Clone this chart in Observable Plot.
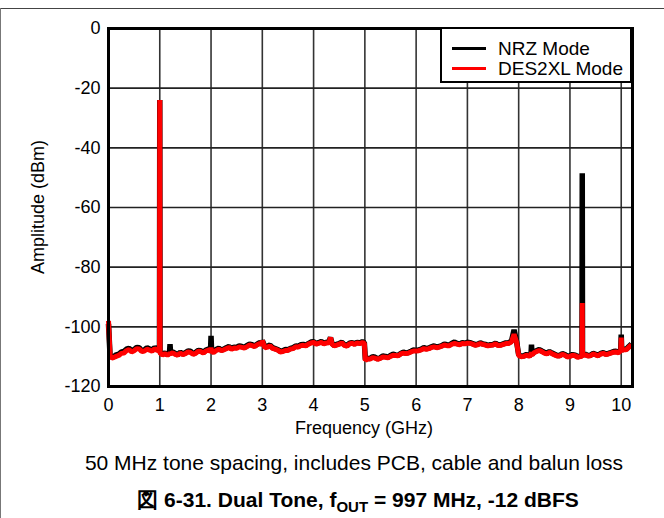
<!DOCTYPE html>
<html>
<head>
<meta charset="utf-8">
<script src="https://cdn.jsdelivr.net/npm/d3@7"></script>
<script src="https://cdn.jsdelivr.net/npm/@observablehq/plot@0.6"></script>
<style>
  html, body { margin: 0; padding: 0; background: #fff; }
  body { font-family: "Liberation Sans", Arial, sans-serif; color: #000; }
  #wrap { position: relative; width: 664px; height: 518px; overflow: hidden; }
  #topline { position: absolute; left: 0; top: 8px; width: 664px; height: 1px; background: #444; }
  #leftline { position: absolute; left: 0; top: 8px; width: 1px; height: 510px; background: #777; }
  #chart { position: absolute; left: 0; top: 0; }
  .t { position: absolute; white-space: nowrap; font-size: 18px; }
  #ylab { left: 38px; top: 207px; transform: translate(-50%, -50%) rotate(-90deg); }
  #xlab { left: 364px; top: 428px; transform: translate(-50%, -50%); }
  #cap { left: 354px; top: 463px; transform: translate(-50%, -50%); font-size: 21px; }
  #title { left: 358px; top: 500px; transform: translate(-50%, -50%); font-weight: bold; font-size: 21px; }
  #title sub { font-size: 15px; vertical-align: -5px; line-height: 0; }
  #legend { position: absolute; left: 440px; top: 27px; width: 192px; height: 56px; box-sizing: border-box;
            border: 2px solid #000; background: #fff; }
  .lg { position: absolute; left: 10px; width: 34px; height: 3px; }
  .lt { position: absolute; left: 56px; font-size: 19px; line-height: 19px; }
</style>
</head>
<body>
<div id="wrap">
  <div id="topline"></div>
  <div id="leftline"></div>
  <div id="chart"></div>
  <div id="legend">
    <div class="lg" style="top:18px;background:#000"></div>
    <div class="lt" style="top:10px">NRZ Mode</div>
    <div class="lg" style="top:38px;background:#f00"></div>
    <div class="lt" style="top:30px">DES2XL Mode</div>
  </div>
  <div class="t" id="ylab">Amplitude (dBm)</div>
  <div class="t" id="xlab">Frequency (GHz)</div>
  <div class="t" id="cap">50 MHz tone spacing, includes PCB, cable and balun loss</div>
  <div class="t" id="title">図 6-31. Dual Tone, f<sub>OUT</sub> = 997 MHz, -12 dBFS</div>
</div>
<script>
const freqGHz = [
  0.00, 0.03, 0.06, 0.1, 0.15, 0.2, 0.25, 0.3, 0.35, 0.4, 0.45, 0.5, 0.55, 0.6, 0.65, 0.7, 0.75, 0.8, 0.85, 0.9, 0.95, 0.995, 1.0, 1.005,
  1.05, 1.1, 1.15, 1.19, 1.2, 1.21, 1.25, 1.3, 1.35, 1.4, 1.45, 1.5, 1.55, 1.6, 1.65, 1.7, 1.75, 1.8, 1.85, 1.9, 1.95, 1.99, 2.0, 2.01,
  2.05, 2.1, 2.15, 2.2, 2.25, 2.3, 2.35, 2.4, 2.45, 2.5, 2.55, 2.6, 2.65, 2.7, 2.75, 2.8, 2.85, 2.9, 2.95, 2.99, 3.0,
  3.05, 3.1, 3.15, 3.2, 3.25, 3.3, 3.35, 3.4, 3.45, 3.5, 3.55, 3.6, 3.65, 3.7, 3.75, 3.8, 3.85, 3.9, 3.95, 4.0,
  4.05, 4.1, 4.15, 4.2, 4.25, 4.3, 4.33, 4.36, 4.4, 4.45, 4.5, 4.55, 4.6, 4.65, 4.7, 4.75, 4.8, 4.85, 4.9, 4.95, 4.99,
  5.01, 5.05, 5.1, 5.15, 5.2, 5.25, 5.3, 5.35, 5.4, 5.45, 5.5, 5.55, 5.6, 5.65, 5.7, 5.75, 5.8, 5.85, 5.9, 5.95, 6.0,
  6.05, 6.1, 6.15, 6.2, 6.25, 6.3, 6.35, 6.4, 6.45, 6.5, 6.55, 6.6, 6.65, 6.7, 6.75, 6.8, 6.85, 6.9, 6.95, 7.0,
  7.05, 7.1, 7.15, 7.2, 7.25, 7.3, 7.35, 7.4, 7.45, 7.5, 7.55, 7.6, 7.65, 7.7, 7.75, 7.8, 7.86, 7.91, 7.96, 8.0,
  8.05, 8.1, 8.15, 8.2, 8.24, 8.25, 8.26, 8.3, 8.35, 8.4, 8.45, 8.5, 8.55, 8.6, 8.65, 8.7, 8.75, 8.8, 8.85, 8.9, 8.95, 9.0,
  9.05, 9.1, 9.15, 9.2, 9.235, 9.24, 9.245, 9.3, 9.35, 9.4, 9.45, 9.5, 9.55, 9.6, 9.65, 9.7, 9.75, 9.8, 9.85, 9.9, 9.95, 9.99, 10.0,
  10.01, 10.05, 10.1, 10.15, 10.2
];
const nrzDbm = [
  -99, -109.5, -110.2, -110.0, -109.4, -109.2, -108.4, -108.3, -107.5, -107.2, -108.0, -107.6, -106.9, -107.0, -108.0, -107.8, -107.0, -107.4, -107.9, -106.9, -107.6, -107.5, -24, -108.5,
  -109.2, -108.8, -109.3, -108.6, -105.8, -108.6, -108.4, -108.9, -109.4, -108.5, -109.1, -108.7, -108.1, -108.2, -109.0, -108.6, -107.9, -108.0, -108.6, -107.8, -107.5, -108.0, -103.0, -108.0,
  -108.4, -107.6, -107.2, -107.8, -107.5, -107.0, -106.6, -107.3, -106.8, -106.9, -106.4, -106.6, -106.9, -106.3, -105.8, -106.0, -106.4, -105.8, -105.3, -105.6, -104.6,
  -106.8, -106.5, -106.1, -107.0, -107.3, -107.6, -108.2, -108.0, -107.6, -107.7, -107.2, -107.0, -106.4, -106.6, -106.0, -105.9, -106.2, -105.6, -105.1, -105.0,
  -105.6, -105.3, -104.9, -105.5, -105.2, -105.0, -103.6, -105.6, -106.2, -105.9, -105.6, -105.2, -106.0, -106.3, -105.5, -105.3, -105.7, -105.2, -105.4, -105.0, -105.3,
  -111.0, -110.5, -110.6, -110.0, -110.2, -110.7, -110.4, -109.8, -109.9, -110.2, -109.6, -109.2, -109.4, -109.5, -108.9, -108.5, -108.8, -108.6, -108.2, -107.8, -107.9,
  -107.8, -107.5, -107.0, -107.3, -107.1, -106.7, -106.4, -106.8, -106.6, -106.3, -105.8, -106.0, -106.1, -105.5, -105.1, -105.6, -105.8, -105.3, -105.5, -105.2,
  -105.3, -105.6, -106.0, -105.8, -105.4, -105.7, -105.9, -106.2, -106.0, -105.9, -105.5, -106.1, -106.0, -105.7, -105.4, -105.4, -104.8, -101.0, -105.0, -109.4,
  -109.8, -109.7, -109.3, -109.6, -109.4, -106.0, -109.2, -108.5, -108.0, -107.6, -108.1, -108.5, -108.9, -108.3, -108.8, -109.2, -109.6, -109.6, -109.0, -109.3, -109.9, -109.7,
  -109.3, -109.5, -110.0, -109.8, -109.6, -48.5, -109.4, -109.2, -109.6, -109.5, -108.9, -109.2, -109.5, -108.9, -108.7, -109.1, -108.9, -108.6, -108.3, -108.2, -108.5, -107.8, -102.6,
  -107.8, -107.4, -107.5, -106.6, -105.8
];
const des2xlDbm = [
  -98, -109.5, -110.5, -110.3, -109.9, -109.6, -108.9, -108.8, -108.0, -107.6, -108.4, -108.0, -107.3, -107.4, -108.3, -108.1, -107.5, -107.8, -108.2, -107.3, -107.9, -107.8, -24, -108.7,
  -109.4, -109.0, -109.5, -109.0, -108.8, -109.0, -108.7, -109.2, -109.5, -108.8, -109.3, -109.0, -108.4, -108.6, -109.2, -108.9, -108.2, -108.3, -108.8, -108.1, -107.8, -108.2, -107.0, -108.2,
  -108.6, -107.9, -107.5, -108.0, -107.7, -107.3, -106.9, -107.5, -107.1, -107.2, -106.7, -106.9, -107.1, -106.7, -106.1, -106.3, -106.6, -106.0, -105.6, -105.9, -104.6,
  -107.0, -106.8, -106.4, -107.2, -107.5, -107.8, -108.4, -108.3, -107.9, -107.9, -107.4, -107.3, -106.7, -106.8, -106.3, -106.2, -106.4, -105.8, -105.4, -105.2,
  -105.8, -105.5, -105.2, -105.7, -105.4, -105.3, -103.6, -105.8, -106.4, -106.1, -105.8, -105.4, -106.2, -106.5, -105.7, -105.5, -105.9, -105.4, -105.6, -105.3, -105.5,
  -111.3, -110.8, -110.8, -110.3, -110.5, -110.9, -110.6, -110.1, -110.2, -110.4, -109.9, -109.5, -109.6, -109.7, -109.1, -108.8, -109.0, -108.8, -108.4, -108.1, -108.1,
  -108.0, -107.7, -107.3, -107.5, -107.3, -106.9, -106.7, -107.0, -106.8, -106.5, -106.1, -106.3, -106.3, -105.8, -105.6, -105.8, -106.0, -105.6, -105.7, -105.5,
  -105.5, -105.8, -106.2, -106.0, -105.6, -105.9, -106.1, -106.4, -106.2, -106.1, -105.7, -106.3, -106.2, -105.9, -105.6, -105.6, -105.0, -102.5, -105.2, -109.6,
  -110.0, -109.9, -109.5, -109.8, -109.6, -108.5, -109.4, -108.7, -108.3, -107.9, -108.3, -108.8, -109.1, -108.5, -109.0, -109.4, -109.8, -109.8, -109.2, -109.5, -110.1, -109.9,
  -109.5, -109.7, -110.2, -110.0, -109.8, -92.0, -109.6, -109.4, -109.8, -109.7, -109.1, -109.4, -109.7, -109.1, -108.9, -109.3, -109.1, -108.8, -108.5, -108.4, -108.7, -108.0, -103.6,
  -108.0, -107.6, -107.7, -106.8, -106.0
];
const xTicks = [0, 1, 2, 3, 4, 5, 6, 7, 8, 9, 10];
const yTicks = [0, -20, -40, -60, -80, -100, -120];

const rows = freqGHz.map((f, i) => ({ f, nrz: nrzDbm[i], des: des2xlDbm[i] }));

const chart = Plot.plot({
  width: 664,
  height: 420,
  marginLeft: 108,
  marginRight: 32,
  marginTop: 28,
  marginBottom: 34,
  x: { domain: [0, 10.22] },
  y: { domain: [-120, 0] },
  style: { fontFamily: '"Liberation Sans", Arial, sans-serif', fontSize: "18px", color: "#000", background: "transparent", overflow: "visible" },
  marks: [
    Plot.gridX(xTicks, { stroke: "#333", strokeOpacity: 1, strokeWidth: 1.6 }),
    Plot.gridY(yTicks, { stroke: "#222", strokeOpacity: 1, strokeWidth: 1.6 }),
    Plot.lineY(rows, { x: "f", y: "nrz", stroke: "#000", strokeWidth: 5.5, strokeLinejoin: "miter", strokeLinecap: "butt" }),
    Plot.lineY(rows, { x: "f", y: "des", stroke: "#f00", strokeWidth: 5, strokeLinejoin: "miter", strokeLinecap: "butt" }),
    Plot.frame({ stroke: "#000", strokeWidth: 3 }),
    Plot.axisX(xTicks, { tickSize: 0, tickPadding: 12, label: null, fontSize: 18, tickFormat: (d) => String(d) }),
    Plot.axisY(yTicks, { tickSize: 0, tickPadding: 8, label: null, fontSize: 18, tickFormat: (d) => String(d) })
  ]
});
document.getElementById("chart").appendChild(chart);
</script>
</body>
</html>
